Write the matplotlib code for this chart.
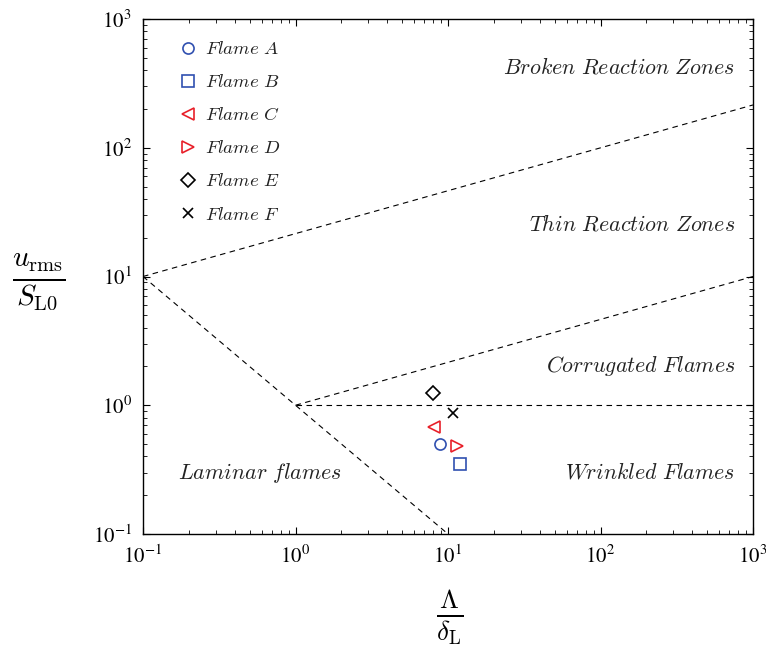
import matplotlib
matplotlib.use("Agg")
import matplotlib.pyplot as plt
import numpy as np

plt.rcParams['mathtext.fontset'] = 'stix'
plt.rcParams['font.family'] = ['STIXGeneral', 'DejaVu Serif']

# Flame data (Lambda/delta_L, u_rms/S_L0)
flames = ['Flame A', 'Flame B', 'Flame C', 'Flame D', 'Flame E', 'Flame F']
x_vals = [8.8, 12.0, 8.1, 11.5, 7.95, 10.8]
y_vals = [0.50, 0.35, 0.68, 0.48, 1.24, 0.87]
markers = ['o', 's', '<', '>', 'D', 'x']
colors = ['#3050b0', '#3050b0', '#e8202a', '#e8202a', 'black', 'black']

# Regime boundary lines (endpoints)
ka100_x = [0.1, 1000]
ka100_y = [10, 215]
ka1_x = [1, 1000]
ka1_y = [1, 10]
da_x = [0.1, 10]
da_y = [10, 0.1]
u1_x = [1, 1000]
u1_y = [1, 1]

regions = ['Broken Reaction Zones', 'Thin Reaction Zones', 'Corrugated Flames',
           'Wrinkled Flames', 'Laminar flames']


def mtext(s):
    return '$' + s.replace(' ', r'\ ') + '$'


fig = plt.figure(figsize=(7.66, 6.49), dpi=100)
ax = fig.add_axes([143/766, 1-534/649, (753-143)/766, (534-19)/649])
ax.set_xscale('log')
ax.set_yscale('log')
ax.set_xlim(0.1, 1000)
ax.set_ylim(0.1, 1000)

for xs, ys in [(ka100_x, ka100_y), (ka1_x, ka1_y), (da_x, da_y), (u1_x, u1_y)]:
    ax.plot(xs, ys, linestyle=(0, (5, 4)), color='black', linewidth=0.8)

for f, x, y, m, c in zip(flames, x_vals, y_vals, markers, colors):
    ms = 8 if m != 'D' else 7
    if m == 'x':
        ax.plot(x, y, marker=m, color=c, linestyle='none', markersize=7,
                markeredgewidth=1.2, label=mtext(f))
    else:
        ax.plot(x, y, marker=m, markerfacecolor='none', markeredgecolor=c,
                linestyle='none', markersize=ms, markeredgewidth=1.2, label=mtext(f))

leg = ax.legend(loc='upper left', frameon=False, prop={'size': 13.5},
                bbox_to_anchor=(0.027, 0.99), labelspacing=0.85, handletextpad=0.35,
                handlelength=1.2)
for t in leg.get_texts():
    t.set_color('#222222')
    t.set_math_fontfamily('cm')

tkw = dict(fontsize=15.8, color='#222222', math_fontfamily='cm')
ax.text(0.971, 0.905, mtext(regions[0]), transform=ax.transAxes, ha='right', va='center', **tkw)
ax.text(0.971, 0.600, mtext(regions[1]), transform=ax.transAxes, ha='right', va='center', **tkw)
ax.text(0.971, 0.327, mtext(regions[2]), transform=ax.transAxes, ha='right', va='center', **tkw)
ax.text(0.971, 0.119, mtext(regions[3]), transform=ax.transAxes, ha='right', va='center', **tkw)
ax.text(0.192, 0.119, mtext(regions[4]), transform=ax.transAxes, ha='center', va='center', **tkw)

ax.tick_params(which='both', direction='in', top=True, right=True, labelsize=15)
ax.tick_params(which='major', length=5, width=0.8, pad=8)
ax.tick_params(which='minor', length=3, width=0.6)
for s in ax.spines.values():
    s.set_linewidth(1.0)

xl = ax.set_xlabel(r'$\frac{\Lambda}{\delta_{\rm L}}$', fontsize=28, va='center')
xl.set_math_fontfamily('cm')
ax.xaxis.set_label_coords(0.503, -0.161)
yl = ax.set_ylabel(r'$\frac{u_{\rm rms}}{S_{\rm L0}}$', fontsize=30, rotation=0,
                   va='center', ha='center')
yl.set_math_fontfamily('cm')
ax.yaxis.set_label_coords(-0.171, 0.489)

fig.savefig('out.png', dpi=100)
